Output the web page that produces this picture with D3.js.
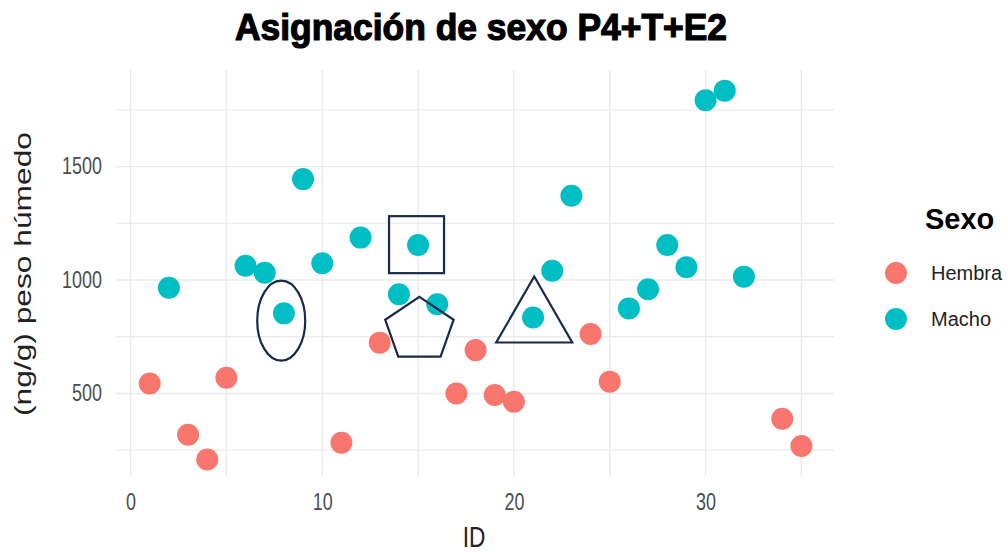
<!DOCTYPE html>
<html>
<head>
<meta charset="utf-8">
<script src="https://cdn.jsdelivr.net/npm/d3@7"></script>
<style>
  body { margin: 0; background: #fff; }
  svg { display: block; }
  .grid line { stroke: #ebebeb; stroke-width: 1.4; }
  .tick-label { font-family: "Liberation Sans", Arial, sans-serif; font-size: 23px; fill: #4d4d4d; }
</style>
</head>
<body>
<div id="chart"></div>
<script>
// ---- data ----
const hembraIds    = [1, 3, 4, 5, 11, 13, 17, 18, 19, 20, 24, 25, 34, 35];
const hembraValues = [544, 318, 209, 569, 283, 724, 500, 691, 493, 463, 762, 552, 388, 268];

const machoIds    = [2, 6, 7, 8, 9, 10, 12, 14, 15, 16, 21, 22, 23, 26, 27, 28, 29, 30, 31, 32];
const machoValues = [966, 1063, 1032, 853, 1445, 1074, 1187, 937, 1154, 893, 835, 1041, 1372, 875, 959, 1154, 1056, 1793, 1835, 1015];

const xTicks = [0, 10, 20, 30];
const xMinor = [5, 15, 25, 35];
const yTicks = [500, 1000, 1500];
const yMinor = [250, 750, 1250, 1750];

const seriesNames = ["Hembra", "Macho"];
const seriesColors = ["#F8766D", "#00BFC4"];

// hand-drawn highlight shapes (centres in data units)
const markShapes = ["ellipse", "square", "pentagon", "triangle"];
const markX      = [7.86, 14.92, 15.07, 21.06];
const markY      = [821, 1156, 780, 870];

var width = 1008, height = 554;
var margin = { top: 70, right: 174, bottom: 78, left: 116 };

// the picture is squeezed sideways, so horizontal text is narrowed
var squeeze = 0.78;

const svg = d3.select("#chart")
  .append("svg")
  .attr("width", width)
  .attr("height", height);

const x = d3.scaleLinear()
  .domain([-0.76, 36.7])
  .range([margin.left, width - margin.right]);

const y = d3.scaleLinear()
  .domain([136, 1926])
  .range([height - margin.bottom, margin.top]);

// grid
const grid = svg.append("g").attr("class", "grid");
grid.selectAll(".vx")
  .data(xTicks.concat(xMinor))
  .join("line")
  .attr("x1", d => x(d)).attr("x2", d => x(d))
  .attr("y1", margin.top).attr("y2", height - margin.bottom);
grid.selectAll(".hy")
  .data(yTicks.concat(yMinor))
  .join("line")
  .attr("y1", d => y(d)).attr("y2", d => y(d))
  .attr("x1", margin.left).attr("x2", width - margin.right);

function narrow(sel, k) {
  k = k || squeeze;
  sel.each(function () {
    const len = this.getComputedTextLength();
    d3.select(this)
      .attr("textLength", len * k)
      .attr("lengthAdjust", "spacingAndGlyphs");
  });
}

// axes (labels only, like theme_minimal)
const xAxis = d3.axisBottom(x).tickValues(xTicks).tickFormat(d3.format("d")).tickSize(0).tickPadding(18);
svg.append("g")
  .attr("transform", "translate(0," + (height - margin.bottom) + ")")
  .call(xAxis)
  .call(g => g.select(".domain").remove())
  .selectAll("text")
  .attr("class", "tick-label")
  .attr("fill", null)
  .call(narrow);

const yAxis = d3.axisLeft(y).tickValues(yTicks).tickFormat(d3.format("d")).tickSize(0).tickPadding(14);
svg.append("g")
  .attr("transform", "translate(" + margin.left + ",0)")
  .call(yAxis)
  .call(g => g.select(".domain").remove())
  .selectAll("text")
  .attr("class", "tick-label")
  .attr("fill", null)
  .call(narrow);

// points
const points = hembraIds.map((id, i) => ({ id: id, value: hembraValues[i], s: 0 }))
  .concat(machoIds.map((id, i) => ({ id: id, value: machoValues[i], s: 1 })));

svg.append("g")
  .selectAll("circle")
  .data(points)
  .join("circle")
  .attr("cx", d => x(d.id))
  .attr("cy", d => y(d.value))
  .attr("r", 11)
  .attr("fill", d => seriesColors[d.s]);

// highlight shapes
const ann = svg.append("g")
  .attr("fill", "none")
  .attr("stroke", "#1b2a4a")
  .attr("stroke-width", 2.2);

markShapes.forEach(function (shape, i) {
  const cx = x(markX[i]), cy = y(markY[i]);
  if (shape === "ellipse") {
    ann.append("ellipse").attr("cx", cx).attr("cy", cy).attr("rx", 24).attr("ry", 40);
  } else if (shape === "square") {
    ann.append("rect").attr("x", cx - 27.5).attr("y", cy - 28.5).attr("width", 55).attr("height", 57);
  } else if (shape === "pentagon") {
    const pts = d3.range(5).map(k => {
      const a = -Math.PI / 2 + k * 2 * Math.PI / 5;
      return [cx + 36 * Math.cos(a), cy + 33 * Math.sin(a)];
    });
    ann.append("polygon").attr("points", pts.map(p => p.join(",")).join(" "));
  } else if (shape === "triangle") {
    const pts = [[cx, cy - 33], [cx + 38, cy + 33], [cx - 38, cy + 33]];
    ann.append("polygon").attr("points", pts.map(p => p.join(",")).join(" "));
  }
});

// titles
svg.append("text")
  .attr("x", 481)
  .attr("y", 40)
  .attr("text-anchor", "middle")
  .attr("textLength", 492)
  .attr("lengthAdjust", "spacingAndGlyphs")
  .style("font-family", "'Liberation Sans', Arial, sans-serif")
  .style("font-weight", "bold")
  .style("font-size", "36px")
  .attr("fill", "#000")
  .attr("stroke", "#000")
  .attr("stroke-width", 1.2)
  .text("Asignación de sexo P4+T+E2");

svg.append("text")
  .attr("x", 474)
  .attr("y", 547)
  .attr("text-anchor", "middle")
  .style("font-family", "'Liberation Sans', Arial, sans-serif")
  .style("font-size", "29px")
  .attr("fill", "#222")
  .text("ID")
  .call(narrow);

svg.append("text")
  .attr("transform", "translate(31,274) rotate(-90)")
  .attr("text-anchor", "middle")
  .attr("textLength", 284)
  .attr("lengthAdjust", "spacingAndGlyphs")
  .style("font-family", "'Liberation Sans', Arial, sans-serif")
  .style("font-size", "24px")
  .attr("fill", "#222")
  .text("(ng/g) peso húmedo");

// legend
const legend = svg.append("g").attr("transform", "translate(896,0)");
legend.append("text")
  .attr("x", 29)
  .attr("y", 229)
  .style("font-family", "'Liberation Sans', Arial, sans-serif")
  .style("font-weight", "bold")
  .style("font-size", "29px")
  .attr("fill", "#000")
  .text("Sexo");

const keys = legend.selectAll(".key")
  .data(seriesNames)
  .join("g")
  .attr("class", "key")
  .attr("transform", (d, i) => "translate(0," + (273 + i * 46) + ")");
keys.append("circle").attr("r", 11).attr("fill", (d, i) => seriesColors[i]);
keys.append("text")
  .attr("x", 35)
  .attr("dy", "0.36em")
  .style("font-family", "'Liberation Sans', Arial, sans-serif")
  .style("font-size", "20px")
  .attr("fill", "#222")
  .text(d => d);
</script>
</body>
</html>
